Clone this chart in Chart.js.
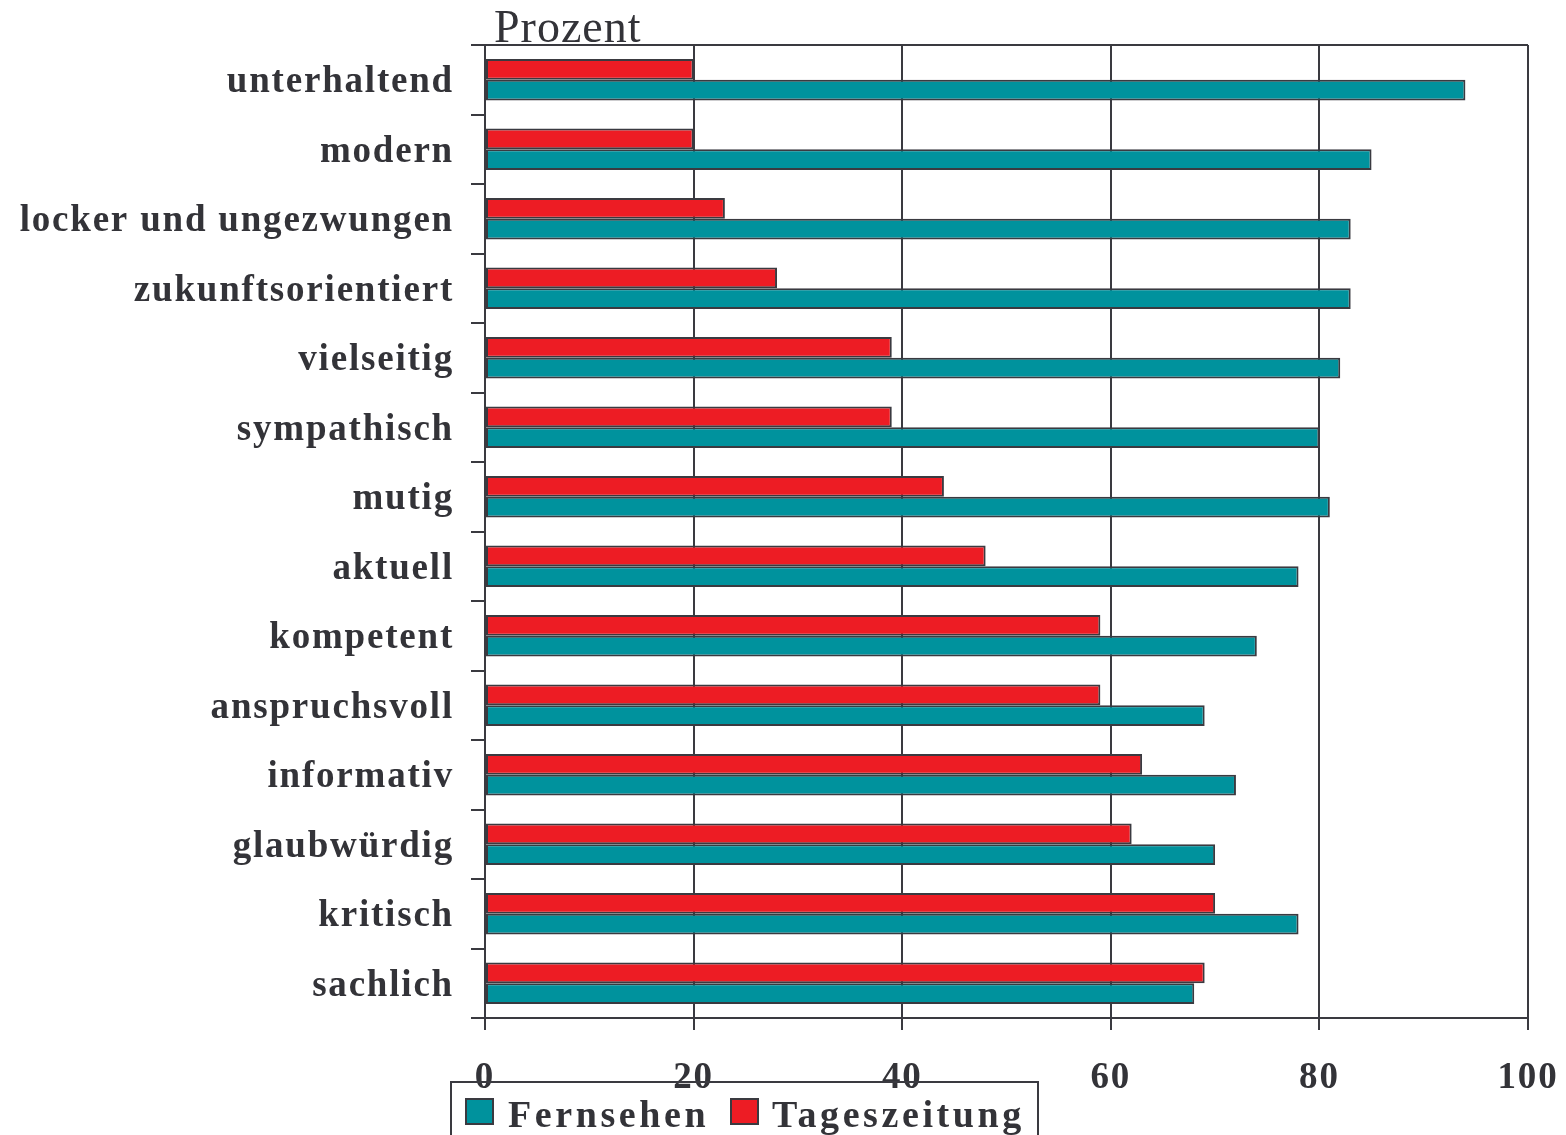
<!DOCTYPE html>
<html>
<head>
<meta charset="utf-8">
<script src="https://cdn.jsdelivr.net/npm/chart.js@4"></script>
<style>
  html, body { margin: 0; padding: 0; background: #fff; }
  #wrap { position: relative; width: 1566px; height: 1135px; overflow: hidden; }
  canvas { position: absolute; left: 0; top: 0; }
  #unit { position: absolute; left: 494px; top: 4px; font: 46px/46px "Liberation Serif", serif; color: #333338; letter-spacing: 1px; }
  #legend { position: absolute; left: 450px; top: 1081px; width: 589px; height: 70px; border: 2px solid #3a3a40; box-sizing: border-box; }
  .sw { position: absolute; top: 15px; width: 29px; height: 27px; border: 2px solid #3a3a40; box-sizing: border-box; }
  .lt { position: absolute; top: 8px; font: bold 38px/46px "Liberation Serif", serif; color: #333338; letter-spacing: 3.6px; white-space: nowrap; }
</style>
</head>
<body>
<div id="wrap">
  <canvas id="c" width="1566" height="1135"></canvas>
  <div id="unit">Prozent</div>
  <div id="legend"></div>
</div>
<script>
const categories = ["unterhaltend", "modern", "locker und ungezwungen", "zukunftsorientiert", "vielseitig", "sympathisch", "mutig", "aktuell", "kompetent", "anspruchsvoll", "informativ", "glaubwürdig", "kritisch", "sachlich"];
const fernsehen = [94, 85, 83, 83, 82, 80, 81, 78, 74, 69, 72, 70, 78, 68];
const tageszeitung = [20, 20, 23, 28, 39, 39, 44, 48, 59, 59, 63, 62, 70, 69];
const xTicks = [0, 20, 40, 60, 80, 100];
const seriesNames = ["Fernsehen", "Tageszeitung"];

const TEAL = "#00929d";
const RED = "#ed1c24";
const DARK = "#3a3a40";
const TEXT = "#333338";

// HTML legend (Fernsehen first, as in the reference)
const legend = document.getElementById("legend");
const legendItems = [
  { name: seriesNames[0], color: TEAL, sx: 13, tx: 56 },
  { name: seriesNames[1], color: RED, sx: 278, tx: 320 }
];
legendItems.forEach(it => {
  const s = document.createElement("div");
  s.className = "sw"; s.style.left = it.sx + "px"; s.style.background = it.color;
  legend.appendChild(s);
  const t = document.createElement("div");
  t.className = "lt"; t.style.left = it.tx + "px"; t.textContent = it.name;
  legend.appendChild(t);
});

const framePlugin = {
  id: "frame",
  beforeDraw(chart) { chart.ctx.letterSpacing = "1.8px"; },
  afterDraw(chart) {
    const { ctx, chartArea } = chart;
    ctx.save();
    ctx.strokeStyle = DARK;
    ctx.lineWidth = 2;
    ctx.beginPath();
    ctx.moveTo(chartArea.left, chartArea.top);
    ctx.lineTo(chartArea.right, chartArea.top);
    ctx.stroke();
    ctx.restore();
  }
};

new Chart(document.getElementById("c"), {
  type: "bar",
  data: {
    labels: categories,
    datasets: [
      { label: seriesNames[1], data: tageszeitung, backgroundColor: RED, borderColor: DARK, borderWidth: 2, borderSkipped: false },
      { label: seriesNames[0], data: fernsehen, backgroundColor: TEAL, borderColor: DARK, borderWidth: 2, borderSkipped: false }
    ]
  },
  options: {
    indexAxis: "y",
    responsive: false,
    animation: false,
    devicePixelRatio: 1,
    layout: { padding: { top: 45, right: 38, left: 0, bottom: 0 } },
    datasets: { bar: { categoryPercentage: 0.6, barPercentage: 1.0 } },
    plugins: { legend: { display: false }, tooltip: { enabled: false }, title: { display: false } },
    scales: {
      x: {
        type: "linear",
        min: 0, max: 100,
        afterBuildTicks(scale) { scale.ticks = xTicks.map(v => ({ value: v })); },
        afterFit(scale) { scale.height = 117; scale.paddingLeft = 0; scale.paddingRight = 0; },
        grid: { color: DARK, lineWidth: 2, tickLength: 12, drawOnChartArea: true },
        border: { display: true, color: DARK, width: 2 },
        ticks: { color: TEXT, padding: 26, font: { family: "Liberation Serif", weight: "bold", size: 37 } }
      },
      y: {
        afterFit(scale) { scale.width = 485; },
        grid: { color: DARK, lineWidth: 2, tickLength: 14, drawOnChartArea: false, offset: true },
        border: { display: true, color: DARK, width: 2 },
        ticks: { color: TEXT, padding: 17, labelOffset: 3, font: { family: "Liberation Serif", weight: "bold", size: 37 } }
      }
    }
  },
  plugins: [framePlugin]
});
</script>
</body>
</html>
